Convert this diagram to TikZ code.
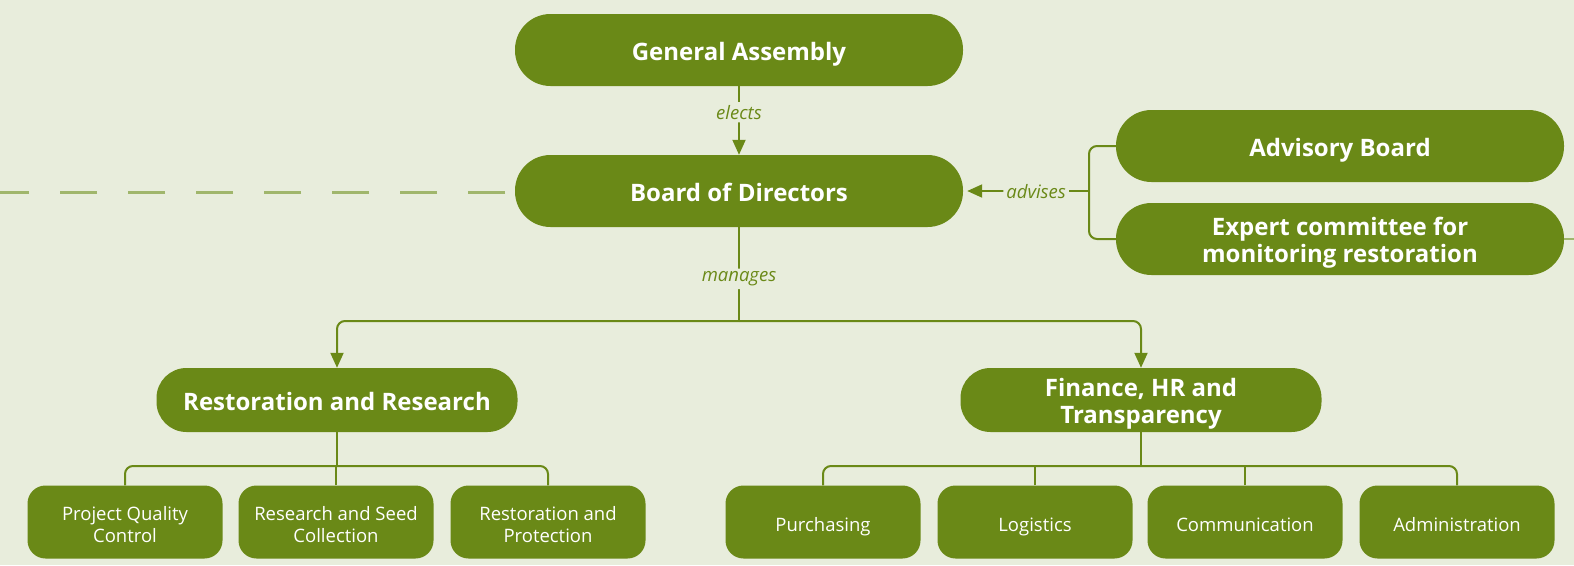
\documentclass[tikz,border=0pt]{standalone}
\usepackage{fontspec}
\setmainfont{Open Sans}
\usetikzlibrary{arrows.meta}
\definecolor{bg}{RGB}{232,237,220}
\definecolor{leaf}{RGB}{106,137,23}
\definecolor{pale}{RGB}{160,182,108}
\tikzset{
  boxbase/.style={fill=leaf, inner sep=0pt},
  bigbox/.style={boxbase, rounded corners=35.5pt, minimum width=448pt, minimum height=72pt},
  midbox/.style={boxbase, rounded corners=30pt, minimum width=361pt, minimum height=64pt},
  smallbox/.style={boxbase, rounded corners=18pt, minimum width=195pt, minimum height=73pt},
  bigtxt/.style={text=white, align=center, inner sep=0pt, yshift=-4pt, font=\fontsize{24}{27}\selectfont\bfseries},
  bigone/.style={bigtxt, text height=18pt, text depth=6pt},
  smalltxt/.style={text=white, align=center, inner sep=0pt, yshift=-4pt, font=\fontsize{18.5}{22}\selectfont},
  smallone/.style={smalltxt, text height=14pt, text depth=4.5pt, yshift=-0.5pt},
  smalltwo/.style={smalltxt, yshift=1.5pt},
  conn/.style={draw=leaf, line width=2pt, rounded corners=8pt},
  arr/.style={-{Triangle[length=15pt,width=13pt]}},
  lbl/.style={fill=bg, text=leaf, inner sep=3pt, font=\fontsize{18.5}{21}\selectfont\itshape},
}
\begin{document}
\begin{tikzpicture}[x=1pt,y=-1pt]
\fill[bg] (0,0) rectangle (1574,565);
\useasboundingbox (0,0) rectangle (1574,565);

\node[bigbox, label={[bigone]center:General Assembly}] (ga) at (739,50) {};
\node[bigbox, label={[bigone]center:Board of Directors}] (bod) at (739,191) {};
\node[bigbox, label={[bigone]center:Advisory Board}] (adv) at (1340,146) {};
\node[bigbox, label={[bigtxt]center:{Expert committee for\\monitoring restoration}}] (exp) at (1340,239) {};

\node[midbox, label={[bigone]center:Restoration and Research}] (rr) at (337,400) {};
\node[midbox, label={[bigtxt]center:{Finance, HR and\\Transparency}}] (fin) at (1141,400) {};

\node[smallbox, label={[smalltwo]center:{Project Quality\\Control}}] (pqc) at (125,522) {};
\node[smallbox, label={[smalltwo]center:{Research and Seed\\Collection}}] (rsc) at (336,522) {};
\node[smallbox, label={[smalltwo]center:{Restoration and\\Protection}}] (rp) at (548,522) {};

\node[smallbox, label={[smallone]center:Purchasing}] (pur) at (823,522) {};
\node[smallbox, label={[smallone]center:Logistics}] (log) at (1035,522) {};
\node[smallbox, label={[smallone]center:Communication}] (com) at (1245,522) {};
\node[smallbox, label={[smallone]center:Administration}] (adm) at (1457,522) {};

% elects
\draw[conn, arr] (ga.south) -- node[lbl, pos=0.38] {elects} (bod.north);

% manages
\coordinate (mbus) at (739,321);
\draw[conn] (bod.south) -- node[lbl, pos=0.55] {manages} (mbus);
\draw[conn, arr] (mbus) -| (rr.north);
\draw[conn, arr] (mbus) -| (fin.north);

% advises bracket
\coordinate (brk) at (1089,191);
\draw[conn] (adv.west) -| (brk) |- (exp.west);
\draw[conn, arr, shorten >=4pt] (brk) -- node[lbl, pos=0.42, yshift=-1pt] {advises} (bod.east);

% dashed line
\coordinate (dA) at (505,192);
\coordinate (dB) at (0,192);
\draw[pale, line width=3pt, dash pattern=on 37pt off 31pt] (dA) -- (dB);

% right stub
\coordinate (rs) at (1574,239);
\draw[pale, line width=2pt] (exp.east) -- (rs);

% bottom buses
\coordinate (lbus) at (337,466);
\draw[conn] (rr.south) -- (lbus);
\draw[conn] (pqc.north) |- (lbus) -| (rp.north);
\draw[conn] (rsc.north) -- (rsc.north |- lbus);

\coordinate (rbus) at (1141,466);
\draw[conn] (fin.south) -- (rbus);
\draw[conn] (pur.north) |- (rbus) -| (adm.north);
\draw[conn] (log.north) -- (log.north |- rbus);
\draw[conn] (com.north) -- (com.north |- rbus);
\end{tikzpicture}
\end{document}
